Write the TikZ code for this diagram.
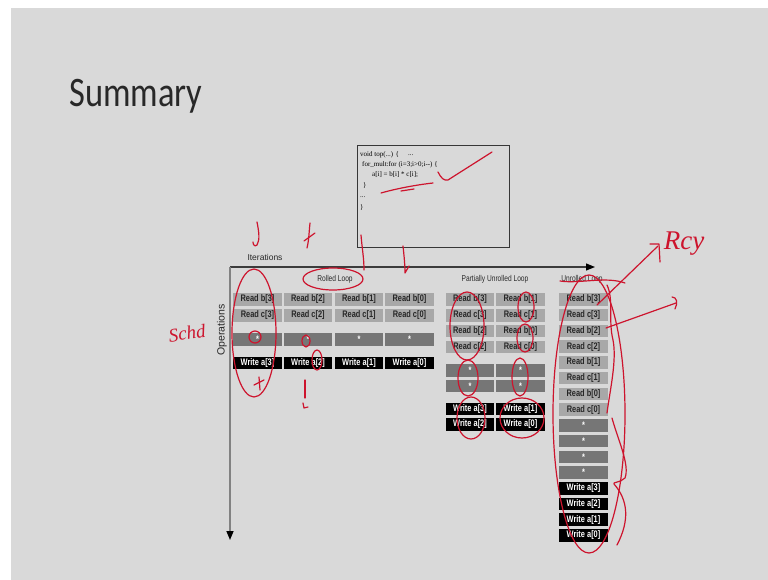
\documentclass[tikz,border=0pt]{standalone}
\usepackage{fontspec}
\setmainfont{Liberation Serif}
\setsansfont{Liberation Sans}
\newfontfamily\titlefont{Carlito}[FakeStretch=0.82]
\newfontfamily\condfont{Liberation Sans}[FakeStretch=0.78]
\usetikzlibrary{arrows.meta}
\definecolor{bgc}{RGB}{217,217,217}
\definecolor{readc}{RGB}{168,168,168}
\definecolor{starc}{RGB}{118,118,118}
\definecolor{ink}{RGB}{205,20,45}
\definecolor{txt}{RGB}{40,40,40}
\definecolor{axisv}{RGB}{130,130,130}
\definecolor{axish}{RGB}{60,60,60}
\definecolor{frame}{RGB}{55,55,55}
\tikzset{
  cell/.style={minimum width=48.5pt, minimum height=12.5pt, inner sep=0pt,
    font=\condfont\bfseries\fontsize{9.5}{9.5}\selectfont},
  rdc/.style={cell, fill=readc, text=black!85},
  stc/.style={cell, fill=starc, text=white},
  wrc/.style={cell, fill=black, text=white},
  lbl/.style={font=\condfont\fontsize{8.5}{9}\selectfont, text=txt, inner sep=0pt},
  codeln/.style={font=\fontsize{7}{7}\selectfont, anchor=base west, inner sep=0pt, text=black},
  hand/.style={draw=ink, line width=1.2pt, line cap=round, line join=round},
}
\begin{document}
\begin{tikzpicture}[x=1pt,y=-1pt]
\useasboundingbox (0,0) rectangle (768,580);
\fill[white] (0,0) rectangle (768,580);
\fill[bgc] (11,8) rectangle (768,580);

% title
\node[font=\titlefont\fontsize{42}{42}\selectfont, text=txt, anchor=base west, inner sep=0pt] (title) at (69,107) {Summary};

% code box
\node[draw=frame, line width=1.4pt, fill=bgc, minimum width=152pt, minimum height=102pt, anchor=north west, inner sep=0pt] (codebox) at (357,145) {};
\node[codeln] (c1) at (360,157) {void top(...) \{};
\node[codeln] (c1b) at (408,156) {...};
\node[codeln] (c2) at (362,167) {for\_mult:for (i=3;i>0;i-{}-) \{};
\node[codeln] (c3) at (372,177) {a[i] = b[i] * c[i];};
\node[codeln] (c4) at (363,188) {\}};
\node[codeln] (c5) at (360,198) {...};
\node[codeln] (c6) at (360,210) {\}};

% axes
\coordinate (O) at (230,267);
\coordinate (XE) at (595,267);
\coordinate (YE) at (230,540);
\draw[axish, line width=1.2pt, -{Triangle[length=9pt,width=7pt,color=black]}] (O) -- (XE);
\draw[axisv, line width=1.5pt, -{Triangle[length=9pt,width=7pt,color=black]}] (O) -- (YE);
\node[font=\sffamily\fontsize{8.5}{9}\selectfont, text=txt, inner sep=0pt] (iter) at (265,257) {Iterations};
\node[font=\sffamily\fontsize{10.5}{11}\selectfont, text=txt, inner sep=0pt, rotate=90] (ops) at (222,330) {Operations};

% labels
\node[lbl] (lrolled) at (335,279) {Rolled Loop};
\node[lbl] (lpart) at (495,279) {Partially Unrolled Loop};
\node[lbl] (lunr) at (582,279) {Unrolled Loop};

% rolled loop
\foreach \i/\x/\k in {1/257.5/3, 2/308/2, 3/359/1, 4/409.5/0} {
  \node[rdc] (rb\i) at (\x,299.5) {Read b[\k]};
  \node[rdc] (rc\i) at (\x,315.5) {Read c[\k]};
  \node[stc] (rs\i) at (\x,339.5) {*};
  \node[wrc] (rw\i) at (\x,363) {Write a[\k]};
}

% partially unrolled loop
\foreach \n/\x/\a/\b in {1/470/3/2, 2/520.5/1/0} {
  \node[rdc] (pb\n a) at (\x,299.5) {Read b[\a]};
  \node[rdc] (pc\n a) at (\x,315.5) {Read c[\a]};
  \node[rdc] (pb\n b) at (\x,331) {Read b[\b]};
  \node[rdc] (pc\n b) at (\x,347) {Read c[\b]};
  \node[stc] (ps\n a) at (\x,370.5) {*};
  \node[stc] (ps\n b) at (\x,386) {*};
  \node[wrc] (pw\n a) at (\x,409) {Write a[\a]};
  \node[wrc] (pw\n b) at (\x,424.5) {Write a[\b]};
}

% unrolled loop
\foreach \k [count=\i from 0] in {3,2,1,0} {
  \pgfmathsetmacro{\ya}{299.5+15.73*(2*\i)}
  \pgfmathsetmacro{\yb}{299.5+15.73*(2*\i+1)}
  \pgfmathsetmacro{\ys}{299.5+15.73*(8+\i)}
  \pgfmathsetmacro{\yw}{299.5+15.73*(12+\i)}
  \node[rdc] (ub\k) at (583.5,\ya) {Read b[\k]};
  \node[rdc] (uc\k) at (583.5,\yb) {Read c[\k]};
  \node[stc] (us\k) at (583.5,\ys) {*};
  \node[wrc] (uw\k) at (583.5,\yw) {Write a[\k]};
}

% ---- handwritten annotations ----
\draw[hand] (438,172) .. controls (441,178) and (444,181) .. (448,180) .. controls (462,171) and (478,161) .. (492,152);
\draw[hand] (381,193) .. controls (395,189) and (415,185) .. (433,183);
\draw[hand] (401,191) -- (414,189);
\draw[hand] (257,222) .. controls (259,232) and (260,240) .. (257,245) .. controls (255,247) and (253,245) .. (253,242);
\draw[hand] (310,223) .. controls (309,232) and (309,240) .. (307,248);
\draw[hand] (304,241) -- (315,233);
\draw[hand] (361,235) .. controls (362,248) and (364,258) .. (364,270);
\draw[hand] (403,246) .. controls (404,255) and (405,265) .. (405,273) -- (409,266);
\draw[hand] (333,279) ellipse [x radius=30, y radius=11];
\draw[hand] (254,333) ellipse [x radius=22, y radius=64];
\draw[hand] (255,337) circle [radius=6];
\draw[hand] (306,341) ellipse [x radius=4, y radius=6];
\draw[hand] (317,360) ellipse [x radius=5, y radius=10];
\draw[hand] (305,380) -- (305,398);
\draw[hand] (303,403) -- (304,408) -- (308,407);
\draw[hand] (254,385) -- (264,380);
\draw[hand] (259,377) -- (260,390);
\node[text=ink, font=\itshape\fontsize{19}{19}\selectfont, rotate=8, inner sep=0pt] (schd) at (187,333) {Schd};

\draw[hand] (467,326) ellipse [x radius=17, y radius=34];
\draw[hand] (468,378) ellipse [x radius=10, y radius=18];
\draw[hand] (471,418) ellipse [x radius=14, y radius=21];
\draw[hand] (526,307) ellipse [x radius=8, y radius=15];
\draw[hand] (525,338) ellipse [x radius=8, y radius=14];
\draw[hand] (520,377) ellipse [x radius=8, y radius=19];
\draw[hand] (522,418) ellipse [x radius=22, y radius=20];

\draw[hand] (589,414) ellipse [x radius=36, y radius=139];
\draw[hand] (560,281) .. controls (580,284) and (605,276) .. (625,283);
\draw[hand] (607,285) .. controls (614,300) and (608,320) .. (613,340) .. controls (617,360) and (610,390) .. (607,413);
\draw[hand] (612,418) .. controls (618,440) and (630,465) .. (625,478) .. controls (620,483) and (612,482) .. (614,484) .. controls (628,500) and (630,520) .. (617,545);
\draw[hand] (597,305) -- (658,246);
\draw[hand] (650,244) -- (659,244) -- (660,262);
\draw[hand] (606,328) -- (676,303);
\draw[hand] (672,297) .. controls (677,297) and (678,303) .. (675,309);
\node[text=ink, font=\itshape\fontsize{27}{27}\selectfont, inner sep=0pt] (rcy) at (684,244) {Rcy};
\end{tikzpicture}
\end{document}
